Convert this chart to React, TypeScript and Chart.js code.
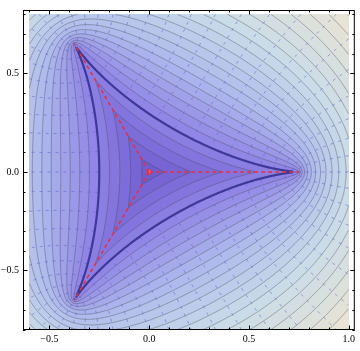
import React, { useEffect, useRef } from 'react';
import { Chart, registerables } from 'chart.js';

Chart.register(...registerables);

const CANVAS_W = 360;
const CANVAS_H = 351;

// plot range (shaded region) and frame range
const plotRangeX = [-0.6, 1.0];
const plotRangeY = [-0.8, 0.8];
const frameRangeX = [-0.632, 1.03];
const frameRangeY = [-0.802, 0.822];

// Toeplitz symbol a(t) = 0.5·t + 0.25·t^(-2); shaded field = log|largest root of a(t) = λ|
const symbolCoeffs = [0.5, 0.25];

// limiting spectrum (star)
const starCenter = { x: 0, y: 0 };
const starTips = [
  { x: 0.75, y: 0 },
  { x: -0.375, y: 0.65 },
  { x: -0.375, y: -0.65 },
];

const contourLevels = [-0.2, -0.15, -0.1, -0.05, 0, 0.05, 0.1, 0.15, 0.2, 0.25, 0.3, 0.35, 0.4, 0.45, 0.5, 0.55, 0.6, 0.65, 0.7, 0.75, 0.8, 0.85, 0.9, 0.95];
const boundaryLevel = 0;
const meshAnglesDeg = [
  -180, -174, -168, -162, -156, -150, -144, -138, -132, -126, -120, -114, -108, -102, -96, -90, -84, -78, -72, -66,
  -60, -54, -48, -42, -36, -30, -24, -18, -12, -6, 0, 6, 12, 18, 24, 30, 36, 42, 48, 54, 60, 66, 72, 78, 84, 90,
  96, 102, 108, 114, 120, 126, 132, 138, 144, 150, 156, 162, 168, 174,
];

const xTickValues = [-0.5, 0, 0.5, 1.0];
const xTickLabels = ['\u22120.5', '0.0', '0.5', '1.0'];
const yTickValues = [-0.5, 0, 0.5];
const yTickLabels = ['\u22120.5', '0.0', '0.5'];
const xMinorTicks = [-0.6, -0.4, -0.3, -0.2, -0.1, 0.1, 0.2, 0.3, 0.4, 0.6, 0.7, 0.8, 0.9];
const yMinorTicks = [-0.8, -0.7, -0.6, -0.4, -0.3, -0.2, -0.1, 0.1, 0.2, 0.3, 0.4, 0.6, 0.7, 0.8];

// colour gradient (style)
const shadeRange = [-0.25, 1.0];
const shadeStops: [number, number[]][] = [
  [0.0, [108, 88, 202]],
  [0.2, [142, 130, 230]],
  [0.45, [174, 186, 236]],
  [0.7, [202, 220, 232]],
  [1.0, [238, 229, 210]],
];

function shade(s: number): number[] {
  if (s <= shadeStops[0][0]) return shadeStops[0][1];
  for (let k = 1; k < shadeStops.length; k++) {
    const [s1, c1] = shadeStops[k];
    const [s0, c0] = shadeStops[k - 1];
    if (s <= s1) {
      const f = (s - s0) / (s1 - s0);
      return [c0[0] + (c1[0] - c0[0]) * f, c0[1] + (c1[1] - c0[1]) * f, c0[2] + (c1[2] - c0[2]) * f];
    }
  }
  return shadeStops[shadeStops.length - 1][1];
}

function computeField(xv: Float64Array, yv: Float64Array) {
  const nx = xv.length, ny = yv.length;
  const U = new Float32Array(nx * ny);
  const V = new Float32Array(nx * ny);
  const a1 = symbolCoeffs[0], a2 = symbolCoeffs[1];
  const c0 = a2 / a1;
  const zr = [0, 0, 0], zi = [0, 0, 0];
  for (let j = 0; j < ny; j++) {
    zr[0] = 1; zi[0] = 0; zr[1] = 0.4; zi[1] = 0.9; zr[2] = -0.65; zi[2] = 0.72;
    for (let i = 0; i < nx; i++) {
      const c2r = -xv[i] / a1, c2i = -yv[j] / a1;
      const iters = i === 0 ? 100 : 14;
      for (let it = 0; it < iters; it++) {
        for (let k = 0; k < 3; k++) {
          const xr = zr[k], xi = zi[k];
          const sqr = xr * xr - xi * xi, sqi = 2 * xr * xi;
          const sr = xr + c2r, si = xi + c2i;
          const pr = sqr * sr - sqi * si + c0, pim = sqr * si + sqi * sr;
          const k1 = (k + 1) % 3, k2 = (k + 2) % 3;
          const d1r = xr - zr[k1], d1i = xi - zi[k1];
          const d2r = xr - zr[k2], d2i = xi - zi[k2];
          const dr = d1r * d2r - d1i * d2i, di = d1r * d2i + d1i * d2r;
          const den = dr * dr + di * di;
          if (den < 1e-30) { zr[k] += 1e-5; continue; }
          zr[k] = xr - (pr * dr + pim * di) / den;
          zi[k] = xi - (pim * dr - pr * di) / den;
        }
      }
      let best = 0, bm = -1;
      for (let k = 0; k < 3; k++) {
        const m = zr[k] * zr[k] + zi[k] * zi[k];
        if (m > bm) { bm = m; best = k; }
      }
      U[j * nx + i] = 0.5 * Math.log(bm);
      V[j * nx + i] = Math.atan2(zi[best], zr[best]);
    }
  }
  return { U, V };
}

// marching squares with chaining into polylines (grid coords)
function traceLevel(f: Float32Array, nx: number, ny: number, lev: number): number[][] {
  const nH = ny * (nx - 1);
  const segA: number[] = [], segB: number[] = [];
  const pts = new Map<number, [number, number]>();
  const edgeSegs = new Map<number, number[]>();
  const hId = (i: number, j: number) => j * (nx - 1) + i;
  const vId = (i: number, j: number) => nH + j * nx + i;
  const pt = (e: number) => {
    if (pts.has(e)) return;
    if (e < nH) {
      const j = Math.floor(e / (nx - 1)), i = e - j * (nx - 1);
      const f0 = f[j * nx + i], f1 = f[j * nx + i + 1];
      pts.set(e, [i + (lev - f0) / (f1 - f0), j]);
    } else {
      const r = e - nH;
      const j = Math.floor(r / nx), i = r - j * nx;
      const f0 = f[j * nx + i], f1 = f[(j + 1) * nx + i];
      pts.set(e, [i, j + (lev - f0) / (f1 - f0)]);
    }
  };
  const add = (e1: number, e2: number) => {
    pt(e1); pt(e2);
    const s = segA.length;
    segA.push(e1); segB.push(e2);
    let l = edgeSegs.get(e1); if (!l) { l = []; edgeSegs.set(e1, l); } l.push(s);
    l = edgeSegs.get(e2); if (!l) { l = []; edgeSegs.set(e2, l); } l.push(s);
  };
  for (let j = 0; j < ny - 1; j++) {
    for (let i = 0; i < nx - 1; i++) {
      const f00 = f[j * nx + i], f10 = f[j * nx + i + 1];
      const f01 = f[(j + 1) * nx + i], f11 = f[(j + 1) * nx + i + 1];
      if (f00 !== f00 || f10 !== f10 || f01 !== f01 || f11 !== f11) continue;
      const s00 = f00 >= lev, s10 = f10 >= lev, s01 = f01 >= lev, s11 = f11 >= lev;
      if (s00 === s10 && s10 === s11 && s11 === s01) continue;
      const T = hId(i, j), R = vId(i + 1, j), B = hId(i, j + 1), L = vId(i, j);
      const cr: number[] = [];
      if (s00 !== s10) cr.push(T);
      if (s10 !== s11) cr.push(R);
      if (s01 !== s11) cr.push(B);
      if (s00 !== s01) cr.push(L);
      if (cr.length === 2) add(cr[0], cr[1]);
      else if (cr.length === 4) {
        const c = (f00 + f10 + f01 + f11) / 4 >= lev;
        if (c === s00) { add(T, R); add(B, L); } else { add(T, L); add(R, B); }
      }
    }
  }
  const visited = new Uint8Array(segA.length);
  const lines: number[][] = [];
  const walk = (start: number, out: number[]) => {
    let e = start;
    for (;;) {
      const l = edgeSegs.get(e);
      let nxt = -1;
      if (l) for (const s of l) if (!visited[s]) { nxt = s; break; }
      if (nxt < 0) break;
      visited[nxt] = 1;
      e = segA[nxt] === e ? segB[nxt] : segA[nxt];
      out.push(e);
    }
  };
  for (let s = 0; s < segA.length; s++) {
    if (visited[s]) continue;
    visited[s] = 1;
    const fwd: number[] = [], bwd: number[] = [];
    walk(segB[s], fwd);
    walk(segA[s], bwd);
    const chain = bwd.reverse().concat([segA[s], segB[s]], fwd);
    const flat: number[] = [];
    for (const e of chain) { const p = pts.get(e)!; flat.push(p[0], p[1]); }
    lines.push(flat);
  }
  return lines;
}

export default function App() {
  const ref = useRef<HTMLCanvasElement>(null);
  useEffect(() => {
    const canvas = ref.current;
    if (!canvas) return;
    let cache: any = null;

    const fieldPlugin = {
      id: 'field',
      beforeDatasetsDraw(chart: any) {
        const { ctx } = chart;
        const xs = chart.scales.x, ys = chart.scales.y;
        const X0 = Math.round(xs.getPixelForValue(plotRangeX[0]));
        const X1 = Math.round(xs.getPixelForValue(plotRangeX[1]));
        const Y0 = Math.round(ys.getPixelForValue(plotRangeY[1]));
        const Y1 = Math.round(ys.getPixelForValue(plotRangeY[0]));
        const nx = X1 - X0, ny = Y1 - Y0;
        if (!cache || cache.nx !== nx || cache.ny !== ny) {
          const xv = new Float64Array(nx), yv = new Float64Array(ny);
          for (let i = 0; i < nx; i++) xv[i] = xs.getValueForPixel(X0 + i + 0.5);
          for (let j = 0; j < ny; j++) yv[j] = ys.getValueForPixel(Y0 + j + 0.5);
          const { U, V } = computeField(xv, yv);
          const off = document.createElement('canvas');
          off.width = nx; off.height = ny;
          const octx = off.getContext('2d')!;
          const img = octx.createImageData(nx, ny);
          const lv = contourLevels;
          const bandColors: number[][] = [];
          for (let k = 0; k <= lv.length; k++) {
            const mid = k === 0 ? lv[0] - 0.025 : k === lv.length ? lv[lv.length - 1] + 0.025 : (lv[k - 1] + lv[k]) / 2;
            bandColors.push(shade((mid - shadeRange[0]) / (shadeRange[1] - shadeRange[0])));
          }
          for (let p = 0; p < nx * ny; p++) {
            const u = U[p];
            let k = 0;
            while (k < lv.length && u >= lv[k]) k++;
            const c = bandColors[k];
            img.data[p * 4] = c[0]; img.data[p * 4 + 1] = c[1]; img.data[p * 4 + 2] = c[2]; img.data[p * 4 + 3] = 255;
          }
          octx.putImageData(img, 0, 0);
          const contours = contourLevels.filter((l) => l !== boundaryLevel).map((l) => traceLevel(U, nx, ny, l));
          const boundary = traceLevel(U, nx, ny, boundaryLevel);
          const mesh: number[][][] = [];
          const G = new Float32Array(nx * ny);
          for (const deg of meshAnglesDeg) {
            const th = (deg * Math.PI) / 180;
            for (let p = 0; p < nx * ny; p++) {
              if (U[p] < 0) { G[p] = NaN; continue; }
              let g = V[p] - th;
              while (g > Math.PI) g -= 2 * Math.PI;
              while (g <= -Math.PI) g += 2 * Math.PI;
              G[p] = Math.abs(g) > Math.PI / 2 ? NaN : g;
            }
            mesh.push(traceLevel(G, nx, ny, 0));
          }
          cache = { nx, ny, off, contours, boundary, mesh };
        }
        const strokeLines = (lines: number[][]) => {
          for (const l of lines) {
            ctx.beginPath();
            ctx.moveTo(X0 + l[0] + 0.5, Y0 + l[1] + 0.5);
            for (let q = 2; q < l.length; q += 2) ctx.lineTo(X0 + l[q] + 0.5, Y0 + l[q + 1] + 0.5);
            ctx.stroke();
          }
        };
        ctx.save();
        ctx.drawImage(cache.off, X0, Y0);
        ctx.beginPath();
        ctx.rect(X0, Y0, nx, ny);
        ctx.clip();
        ctx.lineJoin = 'round';
        ctx.strokeStyle = 'rgba(70,70,80,0.4)';
        ctx.lineWidth = 1;
        for (const c of cache.contours) strokeLines(c);
        ctx.strokeStyle = 'rgba(95,95,210,0.62)';
        ctx.setLineDash([3, 5]);
        for (const m of cache.mesh) strokeLines(m);
        ctx.setLineDash([]);
        ctx.strokeStyle = '#3e3898';
        ctx.lineWidth = 2.2;
        strokeLines(cache.boundary);
        ctx.restore();
      },
      afterDraw(chart: any) {
        const { ctx, chartArea: a } = chart;
        const xs = chart.scales.x, ys = chart.scales.y;
        ctx.save();
        ctx.strokeStyle = '#000';
        ctx.lineWidth = 1;
        ctx.strokeRect(a.left + 0.5, a.top + 0.5, a.right - a.left - 1, a.bottom - a.top - 1);
        ctx.beginPath();
        const tx = (v: number, len: number) => {
          const p = Math.round(xs.getPixelForValue(v)) + 0.5;
          ctx.moveTo(p, a.bottom); ctx.lineTo(p, a.bottom - len);
          ctx.moveTo(p, a.top); ctx.lineTo(p, a.top + len);
        };
        const ty = (v: number, len: number) => {
          const p = Math.round(ys.getPixelForValue(v)) + 0.5;
          ctx.moveTo(a.left, p); ctx.lineTo(a.left + len, p);
          ctx.moveTo(a.right, p); ctx.lineTo(a.right - len, p);
        };
        xTickValues.forEach((v) => tx(v, 4.5));
        xMinorTicks.forEach((v) => tx(v, 2.5));
        yTickValues.forEach((v) => ty(v, 4.5));
        yMinorTicks.forEach((v) => ty(v, 2.5));
        ctx.stroke();
        ctx.restore();
      },
    };

    const font = { family: "'Liberation Serif', 'Times New Roman', serif", size: 10 };
    const starDatasets = starTips.map((tip) => ({
      type: 'line' as const,
      data: [starCenter, tip],
      borderColor: '#e8303c',
      borderWidth: 1.5,
      borderDash: [4, 3],
      pointRadius: 0,
      fill: false,
      tension: 0,
    }));

    const chart = new Chart(canvas, {
      type: 'scatter',
      data: {
        datasets: [
          ...starDatasets,
          {
            type: 'scatter' as const,
            data: [starCenter],
            pointRadius: 2,
            borderWidth: 1.2,
            borderColor: '#e8303c',
            backgroundColor: '#ffffff',
          },
        ] as any,
      },
      options: {
        responsive: false,
        animation: false,
        layout: { padding: { top: 2, right: 3, left: 0, bottom: 0 } },
        plugins: { legend: { display: false }, tooltip: { enabled: false } },
        scales: {
          x: {
            type: 'linear',
            min: frameRangeX[0],
            max: frameRangeX[1],
            afterBuildTicks: (s: any) => { s.ticks = xTickValues.map((value) => ({ value })); },
            afterFit: (s: any) => { s.height = CANVAS_H - 330; },
            grid: { display: false, drawTicks: false },
            border: { display: false },
            ticks: {
              autoSkip: false, maxRotation: 0, padding: 3, color: '#000', font,
              callback: (_v: any, i: number) => xTickLabels[i],
            },
          },
          y: {
            type: 'linear',
            min: frameRangeY[0],
            max: frameRangeY[1],
            afterBuildTicks: (s: any) => { s.ticks = yTickValues.map((value) => ({ value })); },
            afterFit: (s: any) => { s.width = 23; },
            grid: { display: false, drawTicks: false },
            border: { display: false },
            ticks: {
              autoSkip: false, padding: 4, color: '#000', font,
              callback: (_v: any, i: number) => yTickLabels[i],
            },
          },
        },
      } as any,
      plugins: [fieldPlugin],
    });
    return () => chart.destroy();
  }, []);

  return (
    <div style={{ position: 'absolute', left: 0, top: 0, width: CANVAS_W, height: CANVAS_H, background: '#fff' }}>
      <canvas ref={ref} width={CANVAS_W} height={CANVAS_H} style={{ display: 'block' }} />
    </div>
  );
}
